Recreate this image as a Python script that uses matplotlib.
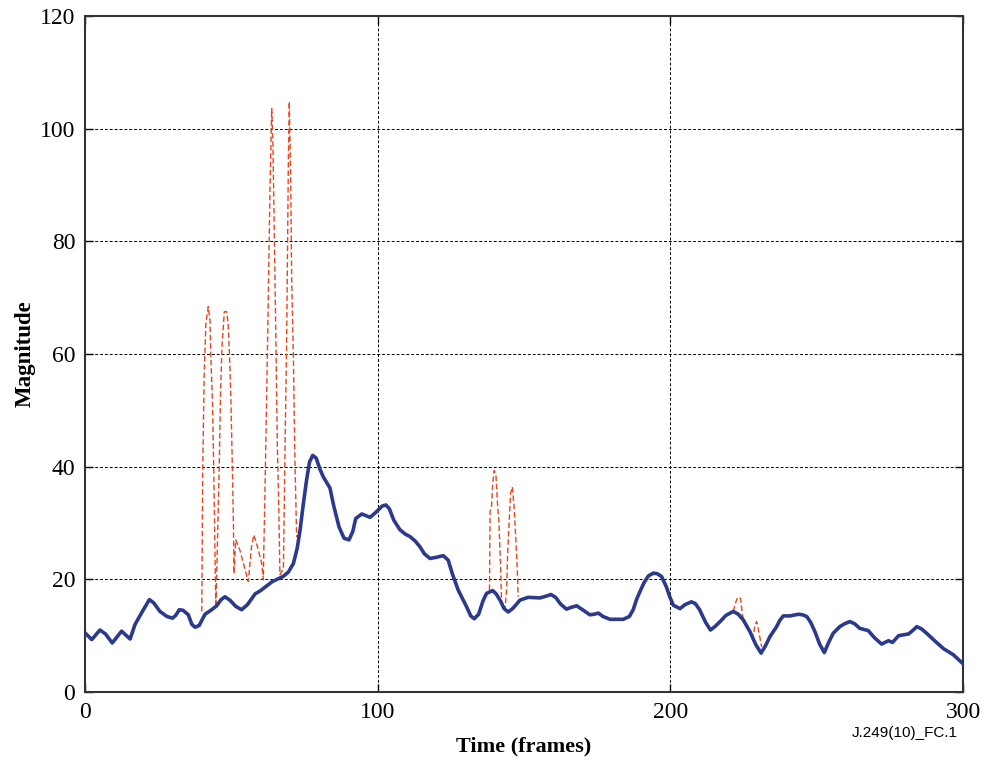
import matplotlib
matplotlib.use("Agg")
import matplotlib.pyplot as plt
import numpy as np

# smoothed magnitude (blue)
frames = [0, 2.3, 5.1, 7, 9.3, 12.5, 15.4, 17.1, 19.5, 22, 23.5, 25.6, 28, 29.9, 31, 32.2, 33.5, 35.3,
          36.5, 37.6, 39, 41, 43, 45, 46.5, 47.8, 49.5, 51.5, 53.5, 55.5, 58.1, 60, 62, 64, 67.7, 69.5,
          71.2, 72.5, 73.5, 74.5, 75.7, 76.7, 77.8, 79, 80.3, 81.4, 83.7, 85, 86.8, 88.5, 90.2, 91.5,
          92.5, 94.6, 96, 97.4, 99.6, 101.5, 102.8, 104, 105.5, 107.6, 109.5, 111, 112.8, 114.4, 116,
          117.9, 120, 122.4, 124.1, 125.5, 127.5, 130.4, 131.8, 133, 134.5, 136, 137.2, 139.3, 140.5,
          141.8, 143.2, 144.6, 146.3, 148.6, 151.4, 155.5, 157.5, 159.2, 160.8, 162.5, 164.5, 166, 168,
          170, 172.5, 174, 175.4, 177, 179.4, 183.9, 186, 187.3, 188.5, 189.6, 191, 192.5, 194.2, 195.5,
          197, 198.6, 199.8, 201, 203.3, 205, 207.2, 208.5, 210, 212, 213.7, 215.2, 217, 219, 221.5,
          223.2, 224.9, 227.2, 229.2, 231, 232.5, 234, 236.3, 237.5, 238.6, 240.9, 243.7, 245.2, 246.6,
          248, 249.4, 251, 252.6, 254, 255.6, 257.9, 259.5, 261.3, 263, 264.7, 267.6, 269.8, 272.2,
          274.5, 275.9, 278, 281.4, 283, 284.2, 285.8, 287.6, 290.5, 293.3, 296.7, 300]
magnitude = [10.5, 9.3, 11.0, 10.3, 8.7, 10.8, 9.4, 12.0, 14.2, 16.4, 15.8, 14.3, 13.4, 13.1, 13.6, 14.6,
             14.5, 13.7, 12.0, 11.5, 11.8, 13.8, 14.5, 15.3, 16.4, 16.9, 16.3, 15.2, 14.6, 15.5, 17.4,
             18.0, 18.8, 19.6, 20.5, 21.3, 22.8, 25.5, 28.8, 33.0, 37.6, 40.8, 42.0, 41.5, 39.5, 38.2,
             36.2, 33.0, 29.3, 27.3, 27.0, 28.5, 30.8, 31.6, 31.3, 31.0, 32.0, 33.0, 33.2, 32.5, 30.5,
             28.8, 28.0, 27.6, 26.8, 25.8, 24.5, 23.7, 23.9, 24.2, 23.4, 21.0, 18.1, 15.1, 13.5, 13.0,
             13.8, 16.2, 17.5, 18.0, 17.4, 16.3, 14.8, 14.2, 14.9, 16.3, 16.8, 16.7, 17.0, 17.3, 16.8,
             15.6, 14.7, 15.0, 15.3, 14.6, 13.7, 13.8, 14.0, 13.4, 12.9, 12.9, 13.4, 14.6, 16.5, 17.8,
             19.4, 20.6, 21.1, 21.0, 20.5, 18.7, 16.9, 15.4, 14.8, 15.5, 16.0, 15.7, 14.6, 12.4, 11.0,
             11.6, 12.5, 13.6, 14.3, 13.8, 12.8, 10.7, 8.4, 6.9, 8.2, 9.8, 11.6, 12.8, 13.5, 13.5, 13.8,
             13.7, 13.4, 12.3, 10.7, 8.5, 7.0, 8.7, 10.4, 11.6, 12.1, 12.5, 12.1, 11.3, 10.9, 9.6, 8.5,
             9.1, 8.8, 10.0, 10.3, 11.0, 11.6, 11.2, 10.4, 9.0, 7.7, 6.6, 5.0]

# raw magnitude (red dashed), only visible where it leaves the smoothed curve
raw_frames_1 = [39.9, 40.2, 40.7, 41.3, 42.1, 42.7, 43.0, 43.6, 44.0, 44.4, 44.7, 45.2, 45.9, 46.3, 46.8,
                47.6, 48.4, 48.9, 49.3, 49.8, 50.2, 50.7, 50.9, 51.5, 52.9, 54.7, 55.8, 56.9, 57.7, 58.9,
                60.4, 60.9, 61.5, 62.1, 62.6, 63.2, 63.8, 64.2, 64.7, 65.3, 65.7, 66.2, 66.6, 67.8, 68.3,
                68.9, 69.5, 69.8, 70.3, 70.6, 71.2, 71.7, 72.3, 73.3]
raw_vals_1 = [14.3, 38.2, 56.0, 65.4, 68.4, 66.0, 59.5, 50.6, 38.8, 25.2, 15.0, 25.2, 41.2, 53.0, 61.3,
              67.5, 67.5, 65.4, 60.7, 53.0, 43.5, 30.5, 21.0, 27.0, 25.2, 21.7, 19.6, 25.8, 27.9, 25.8,
              22.8, 19.9, 35.9, 53.6, 69.0, 89.1, 103.6, 97.4, 80.8, 59.5, 44.1, 32.9, 20.8, 22.0, 41.8,
              62.5, 95.0, 104.8, 90.3, 73.7, 59.5, 41.8, 27.6, 28.0]
raw_frames_2 = [138.2, 138.4, 138.9, 139.3, 139.8, 140.4, 141.0, 141.4, 142.0, 142.3, 143.5, 144.1, 144.4,
                145.0, 145.4, 146.0, 146.6, 147.1, 147.7, 148.0]
raw_vals_2 = [18.1, 32.0, 32.9, 37.0, 39.3, 38.5, 32.9, 30.5, 22.2, 16.3, 14.6, 18.7, 24.6, 31.1, 35.2,
              36.4, 32.9, 28.2, 21.7, 16.9]
raw_frames_3 = [221.5, 222.4, 223.0, 224.0, 224.6, 225.2]
raw_vals_3 = [14.3, 16.0, 16.8, 16.6, 13.7, 12.5]
raw_frames_4 = [228.0, 228.3, 228.9, 229.5, 230.0, 231.2]
raw_vals_4 = [9.2, 9.8, 11.9, 12.5, 11.3, 8.0]

x_ticks = [0, 100, 200, 300]
y_ticks = [0, 20, 40, 60, 80, 100, 120]

serif = ["Liberation Serif", "DejaVu Serif"]
red = "#E8461E"
blue = "#2B3A8C"

fig = plt.figure(figsize=(9.85, 7.6), dpi=100)
ax = fig.add_axes([0.0863, 0.0895, 0.8914, 0.8895])

for fx, fy in [(raw_frames_1, raw_vals_1), (raw_frames_2, raw_vals_2),
               (raw_frames_3, raw_vals_3), (raw_frames_4, raw_vals_4)]:
    ax.plot(fx, fy, color=red, lw=1.0, dashes=(4, 2), zorder=2)
ax.plot(frames, magnitude, color=blue, lw=2.6, solid_joinstyle="round", solid_capstyle="round", zorder=3)

ax.set_xlim(0, 300)
ax.set_ylim(0, 120)
ax.set_xticks(x_ticks)
ax.set_yticks(y_ticks)
ax.grid(True, color="black", ls=(0, (3, 2)), lw=0.7)
ax.tick_params(direction="in", top=True, right=True, length=6, width=1, labelsize=17, pad=7)
for lbl in ax.get_xticklabels() + ax.get_yticklabels():
    lbl.set_family(serif)
for sp in ax.spines.values():
    sp.set_color("#333333")
    sp.set_linewidth(1.5)

ax.set_xlabel("Time (frames)", family=serif, fontsize=16, fontweight="bold", labelpad=10)
ax.set_ylabel("Magnitude", family=serif, fontsize=16.5, fontweight="bold", labelpad=3)
fig.text(0.972, 0.035, "J.249(10)_FC.1", family=["Liberation Sans", "DejaVu Sans"],
         fontsize=11, ha="right", va="center")

fig.savefig("out.png", dpi=100)
